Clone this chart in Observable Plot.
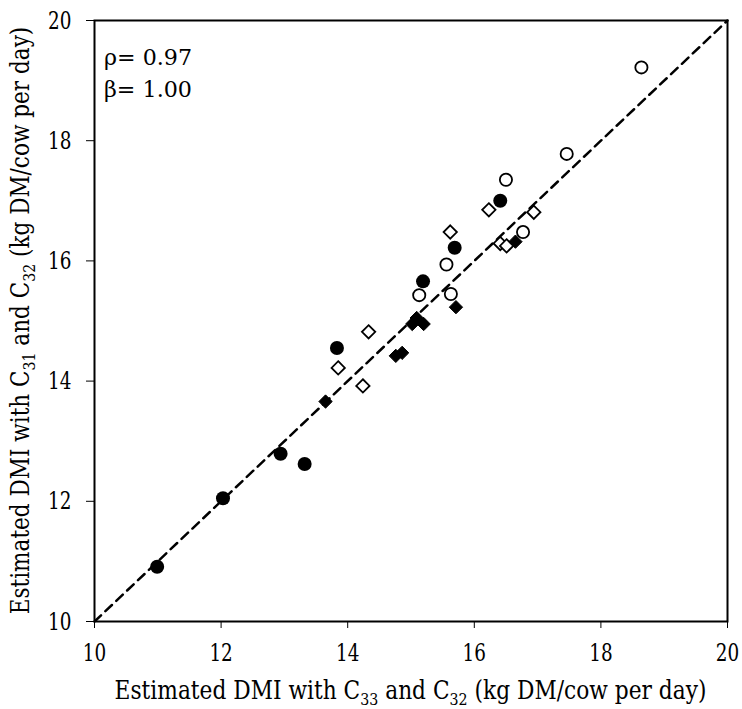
<!DOCTYPE html>
<html>
<head>
<meta charset="utf-8">
<script src="https://cdn.jsdelivr.net/npm/d3@7"></script>
<script src="https://cdn.jsdelivr.net/npm/@observablehq/plot@0.6"></script>
<style>
  html, body { margin: 0; padding: 0; background: #fff; }
  #chart svg { display: block; }
</style>
</head>
<body>
<div id="chart"></div>
<script>
// Tick values
const xTicks = [10, 12, 14, 16, 18, 20];
const yTicks = [10, 12, 14, 16, 18, 20];
const axisDomain = [10, 20];

// Series: x = DMI with C33 and C32, y = DMI with C31 and C32
const filledCircleX = [10.99, 12.03, 12.94, 13.32, 13.83, 15.19, 15.69, 16.41];
const filledCircleY = [10.91, 12.05, 12.79, 12.62, 14.55, 15.66, 16.22, 17.00];

const openCircleX = [15.13, 15.63, 15.56, 16.77, 16.50, 17.46, 18.64];
const openCircleY = [15.43, 15.45, 15.94, 16.48, 17.35, 17.78, 19.22];

const filledDiamondX = [13.65, 14.76, 14.86, 15.02, 15.09, 15.20, 15.71, 16.65];
const filledDiamondY = [13.66, 14.42, 14.47, 14.95, 15.05, 14.95, 15.23, 16.32];

const openDiamondX = [13.85, 14.24, 14.33, 15.62, 16.23, 16.41, 16.51, 16.94];
const openDiamondY = [14.22, 13.92, 14.82, 16.48, 16.85, 16.29, 16.25, 16.81];

const statsLines = ["ρ= 0.97", "β= 1.00"];

const xTitle = ["Estimated DMI with C", "33", " and C", "32", " (kg DM/cow per day)"];
const yTitle = ["Estimated DMI with C", "31", " and C", "32", " (kg DM/cow per day)"];

const toPts = (xs, ys) => xs.map((x, i) => ({x, y: ys[i]}));
const filledCircles = toPts(filledCircleX, filledCircleY);
const openCircles = toPts(openCircleX, openCircleY);
const filledDiamonds = toPts(filledDiamondX, filledDiamondY);
const openDiamonds = toPts(openDiamondX, openDiamondY);
const diag = axisDomain.map(v => ({x: v, y: v}));

const W = 742, H = 709;
const mL = 94, mR = 15, mT = 20, mB = 88;
const serif = "DejaVu Serif";

const chart = Plot.plot({
  width: W,
  height: H,
  marginLeft: mL,
  marginRight: mR,
  marginTop: mT,
  marginBottom: mB,
  style: {fontFamily: serif, fontSize: "25px", color: "#000", background: "#fff"},
  x: {domain: axisDomain, ticks: xTicks},
  y: {domain: axisDomain, ticks: yTicks},
  marks: [
    Plot.line(diag, {x: "x", y: "y", stroke: "#000", strokeWidth: 2.5, strokeDasharray: "9,6"}),
    Plot.dot(openDiamonds, {x: "x", y: "y", symbol: "diamond2", r: 6, stroke: "#000", strokeWidth: 1.8, fill: "#fff"}),
    Plot.dot(openCircles, {x: "x", y: "y", symbol: "circle", r: 6.1, stroke: "#000", strokeWidth: 1.8, fill: "#fff"}),
    Plot.dot(filledDiamonds, {x: "x", y: "y", symbol: "diamond2", r: 6, stroke: "#000", strokeWidth: 1, fill: "#000"}),
    Plot.dot(filledCircles, {x: "x", y: "y", symbol: "circle", r: 7, stroke: "none", fill: "#000"}),
    Plot.frame({stroke: "#000", strokeWidth: 2}),
    Plot.axisX({ticks: xTicks, tickSize: 7, tickPadding: 15, label: null, fontSize: 25, tickFormat: d => String(d)}),
    Plot.axisY({ticks: yTicks, tickSize: 8, tickPadding: 15, label: null, fontSize: 25, tickFormat: d => String(d)})
  ]
});

document.getElementById("chart").appendChild(chart);

const svg = d3.select(chart);
svg.attr("font-family", serif);

// narrow the wide DejaVu Serif glyphs horizontally to a Times-like width
function squeeze(node, target, base) {
  const w = node.getComputedTextLength();
  const k = w > 0 ? target / w : 1;
  node.setAttribute("transform", `${base} scale(${k.toFixed(4)},1)`);
}

svg.selectAll("g[aria-label='x-axis tick label'] text, g[aria-label='y-axis tick label'] text").each(function() {
  const base = this.getAttribute("transform") || "";
  squeeze(this, 11.7 * this.textContent.length, base);
});

// stats annotation (top-left of the frame)
const stats = svg.append("g").attr("font-size", 23).attr("fill", "#000");
statsLines.forEach((s, i) => {
  const t = stats.append("text").text(s).node();
  squeeze(t, 88, `translate(${mL + 54},${mT + 45 + i * 31.7})`);
});

function titleText(sel, parts) {
  parts.forEach((p, i) => {
    const sub = i % 2 === 1;
    const t = sel.append("tspan").text(p);
    if (sub) t.attr("font-size", 17).attr("dy", 6);
    else if (i > 0) t.attr("dy", -6);
  });
}

const plotCx = mL + (W - mL - mR) / 2;
const plotCy = mT + (H - mT - mB) / 2;

const xt = svg.append("text")
  .attr("text-anchor", "middle")
  .attr("font-size", 26)
  .attr("fill", "#000");
titleText(xt, xTitle);
squeeze(xt.node(), 592, `translate(${plotCx},699)`);

const yt = svg.append("text")
  .attr("text-anchor", "middle")
  .attr("font-size", 26)
  .attr("fill", "#000");
titleText(yt, yTitle);
squeeze(yt.node(), 588, `translate(29,${plotCy}) rotate(-90)`);
</script>
</body>
</html>
